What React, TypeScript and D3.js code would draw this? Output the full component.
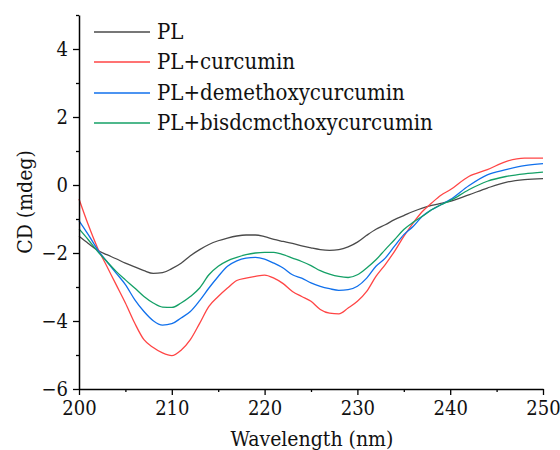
import React, { useEffect, useRef } from "react";
import * as d3 from "d3";

const wavelengths = [
  200, 201, 202, 203, 204, 205, 206, 207, 208, 209, 210, 211, 212, 213, 214, 215, 216, 217, 218, 219,
  220, 221, 222, 223, 224, 225, 226, 227, 228, 229, 230, 231, 232, 233, 234, 235, 236, 237, 238, 239,
  240, 242, 244, 246, 248, 250,
];

const pl = [
  -1.51, -1.72, -1.92, -2.05, -2.17, -2.3, -2.41, -2.52, -2.6, -2.58, -2.46, -2.3, -2.08, -1.9, -1.75, -1.64, -1.56, -1.5, -1.47, -1.47,
  -1.52, -1.6, -1.66, -1.72, -1.79, -1.85, -1.9, -1.92, -1.9, -1.82, -1.68, -1.48, -1.3, -1.17, -1.02, -0.9, -0.78, -0.68, -0.6, -0.54,
  -0.48, -0.29, -0.09, 0.08, 0.16, 0.19,
];

const plCurcumin = [
  -0.41, -1.17, -1.85, -2.39, -2.93, -3.47, -4.06, -4.55, -4.78, -4.94, -5.02, -4.86, -4.55, -4.07, -3.57, -3.28, -3.03, -2.81, -2.74, -2.69,
  -2.65, -2.74, -2.9, -3.13, -3.28, -3.42, -3.66, -3.77, -3.79, -3.62, -3.42, -3.13, -2.69, -2.34, -1.95, -1.51, -1.12, -0.78, -0.53, -0.3,
  -0.14, 0.25, 0.45, 0.69, 0.79, 0.79,
];

const plDemethoxy = [
  -1.05, -1.46, -1.9, -2.25, -2.59, -2.93, -3.37, -3.72, -3.99, -4.12, -4.08, -3.91, -3.72, -3.4, -3.03, -2.69, -2.39, -2.23, -2.15, -2.13,
  -2.18, -2.3, -2.44, -2.64, -2.74, -2.88, -2.98, -3.05, -3.1, -3.08, -2.98, -2.74, -2.39, -2.15, -1.8, -1.46, -1.22, -0.92, -0.73, -0.58,
  -0.43, -0.02, 0.3, 0.45, 0.57, 0.63,
];

const plBisdemethoxy = [
  -1.29, -1.61, -1.95, -2.25, -2.54, -2.79, -3.03, -3.28, -3.47, -3.59, -3.6, -3.47, -3.28, -3.03, -2.64, -2.39, -2.23, -2.13, -2.05, -2.0,
  -1.98, -1.98, -2.05, -2.15, -2.25, -2.37, -2.52, -2.62, -2.69, -2.72, -2.64, -2.44, -2.2, -1.9, -1.61, -1.31, -1.1, -0.92, -0.73, -0.58,
  -0.46, -0.14, 0.11, 0.25, 0.33, 0.38,
];

const seriesNames = ["PL", "PL+curcumin", "PL+demethoxycurcumin", "PL+bisdcmcthoxycurcumin"];
const seriesValues = [pl, plCurcumin, plDemethoxy, plBisdemethoxy];
const seriesColors = ["#4a4a4a", "#ff4545", "#1070ec", "#14a066"];

const xMajorTicks = [200, 210, 220, 230, 240, 250];
const xMinorTicks = [205, 215, 225, 235, 245];
const yMajorTicks = [-6, -4, -2, 0, 2, 4];
const yMinorTicks = [-5, -3, -1, 1, 3, 5];

const W = 560;
const H = 450;
const FONT = '"DejaVu Serif Condensed", "DejaVu Serif", serif';

export default function App() {
  const ref = useRef<SVGSVGElement>(null);

  useEffect(() => {
    const svg = d3.select(ref.current);
    svg.selectAll("*").remove();

    const x = d3.scaleLinear().domain([200, 250]).range([79, 543]);
    const y = d3.scaleLinear().domain([-6, 5]).range([389, 15]);

    const line = d3
      .line<number>()
      .x((_, i) => x(wavelengths[i]))
      .y((d) => y(d))
      .curve(d3.curveMonotoneX);

    seriesValues.forEach((vals, k) => {
      svg
        .append("path")
        .attr("d", line(vals) as string)
        .attr("fill", "none")
        .attr("stroke", seriesColors[k])
        .attr("stroke-width", 1.3);
    });

    const xAxis = svg.append("g").attr("transform", `translate(0,${y(-6)})`);
    xAxis.call(
      d3.axisBottom(x).tickValues(xMajorTicks).tickSize(6).tickSizeOuter(0).tickPadding(6).tickFormat(d3.format("d"))
    );
    xAxis
      .append("g")
      .call(d3.axisBottom(x).tickValues(xMinorTicks).tickSize(3).tickSizeOuter(0).tickFormat(() => ""))
      .select(".domain")
      .remove();

    const yAxis = svg.append("g").attr("transform", `translate(${x(200)},0)`);
    yAxis.call(
      d3
        .axisLeft(y)
        .tickValues(yMajorTicks)
        .tickSize(6)
        .tickSizeOuter(0)
        .tickPadding(5)
        .tickFormat((d) => d3.format("d")(d as number).replace("-", "\u2212"))
    );
    yAxis
      .append("g")
      .call(d3.axisLeft(y).tickValues(yMinorTicks).tickSize(3).tickSizeOuter(0).tickFormat(() => ""))
      .select(".domain")
      .remove();

    svg.selectAll(".domain").attr("stroke", "#000").attr("stroke-width", 1.5);
    svg.selectAll(".tick line").attr("stroke", "#000").attr("stroke-width", 1.3);
    svg.selectAll("g").attr("font-family", FONT).attr("font-size", 20);
    svg.selectAll(".tick text").attr("fill", "#111");

    svg
      .append("text")
      .attr("x", 312)
      .attr("y", 446)
      .attr("text-anchor", "middle")
      .attr("font-family", FONT)
      .attr("font-size", 21)
      .attr("fill", "#111")
      .text("Wavelength (nm)");

    svg
      .append("text")
      .attr("transform", `translate(32,202) rotate(-90)`)
      .attr("text-anchor", "middle")
      .attr("font-family", FONT)
      .attr("font-size", 21)
      .attr("fill", "#111")
      .text("CD (mdeg)");

    const legendY = [32, 62, 93, 123];
    seriesNames.forEach((name, k) => {
      svg
        .append("line")
        .attr("x1", 94)
        .attr("x2", 150)
        .attr("y1", legendY[k])
        .attr("y2", legendY[k])
        .attr("stroke", seriesColors[k])
        .attr("stroke-width", 1.3);
      svg
        .append("text")
        .attr("x", 157)
        .attr("y", legendY[k] + 7)
        .attr("font-family", FONT)
        .attr("font-size", 22)
        .attr("fill", "#111")
        .text(name);
    });
  }, []);

  return (
    <svg
      ref={ref}
      width={W}
      height={H}
      style={{ position: "absolute", left: 0, top: 0, background: "#fff" }}
    />
  );
}
